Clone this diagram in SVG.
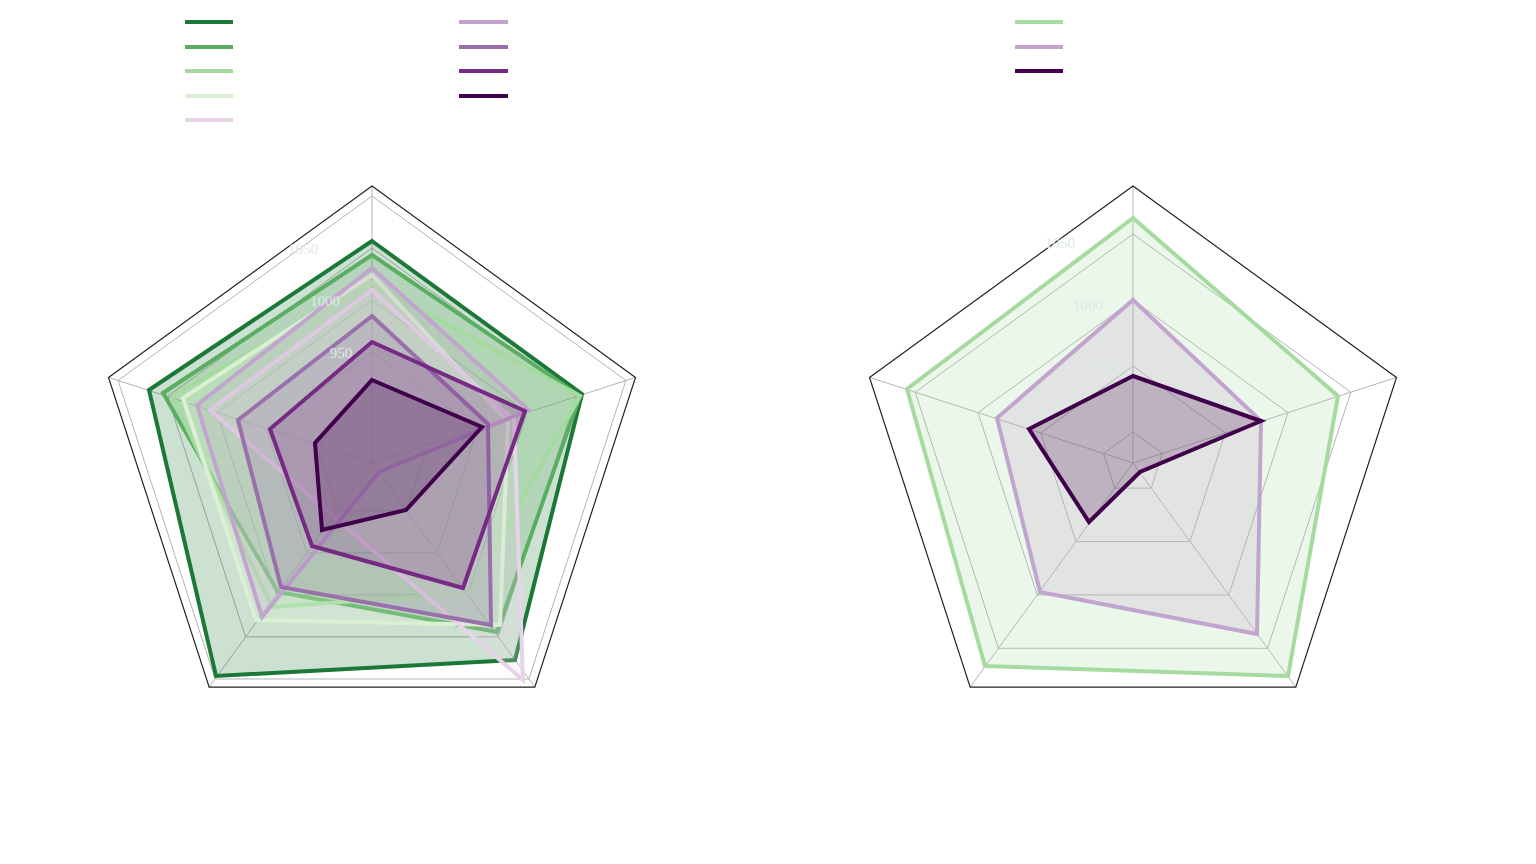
<svg xmlns="http://www.w3.org/2000/svg" width="1536" height="864" viewBox="0 0 1536 864">
<style>
.grid{fill:none;stroke:#b3b3b3;stroke-width:1}
.outer{fill:none;stroke:#222;stroke-width:1.2}
.s{stroke-width:4;stroke-linejoin:miter;fill-opacity:0.22}
.tick{font-family:"Liberation Serif",serif;font-size:15px;fill:#dde8e8}
.leg{stroke-width:4}
</style>
<rect width="1536" height="864" fill="#fff"/>
<g id="legend">
<line class="leg" x1="185" y1="22" x2="233" y2="22" stroke="#1b7837"/>
<line class="leg" x1="185" y1="47" x2="233" y2="47" stroke="#5aae61"/>
<line class="leg" x1="185" y1="71" x2="233" y2="71" stroke="#a6dba0"/>
<line class="leg" x1="185" y1="96" x2="233" y2="96" stroke="#d9f0d3"/>
<line class="leg" x1="185" y1="120" x2="233" y2="120" stroke="#e7d4e8"/>
<line class="leg" x1="459" y1="22" x2="508" y2="22" stroke="#c2a5cf"/>
<line class="leg" x1="459" y1="47" x2="508" y2="47" stroke="#9970ab"/>
<line class="leg" x1="459" y1="71" x2="508" y2="71" stroke="#762a83"/>
<line class="leg" x1="459" y1="96" x2="508" y2="96" stroke="#40004b"/>
<line class="leg" x1="1015" y1="22" x2="1063" y2="22" stroke="#a6dba0"/>
<line class="leg" x1="1015" y1="47" x2="1063" y2="47" stroke="#c2a5cf"/>
<line class="leg" x1="1015" y1="71" x2="1063" y2="71" stroke="#40004b"/>
</g>
<g id="left-grid">
<polygon class="grid" points="372,196 625.9,380.5 528.9,679 215.1,679 118.1,380.5"/>
<polygon class="grid" points="372,248 576.5,396.6 498.4,636.9 245.6,636.9 167.5,396.6"/>
<polygon class="grid" points="372,300 527,412.6 467.8,594.9 276.2,594.9 217,412.6"/>
<polygon class="grid" points="372,352 477.6,428.7 437.2,552.8 306.8,552.8 266.4,428.7"/>
<polygon class="grid" points="372,404 428.1,444.8 406.7,510.7 337.3,510.7 315.9,444.8"/>
<path class="grid" d="M372,463L372,186M372,463L635.5,377.4M372,463L534.8,687.1M372,463L209.2,687.1M372,463L108.5,377.4"/>
<polygon class="outer" points="372,186 635.5,377.4 534.8,687.1 209.2,687.1 108.5,377.4"/>
</g>
<g id="left-series">
<polygon class="s" stroke="#1b7837" fill="#1b7837" points="372,241 582,394 515,660 216,676 149,390"/>
<polygon class="s" stroke="#5aae61" fill="#5aae61" points="372,255 580,396 497,632 278,592 163,393"/>
<polygon class="s" stroke="#a6dba0" fill="#a6dba0" points="372,283 580,396 470,593 272,607 172,396"/>
<polygon class="s" stroke="#d9f0d3" fill="#d9f0d3" points="372,275 508,422 500,625 256,620 183,398"/>
<polygon class="s" stroke="#e7d4e8" fill="#e7d4e8" points="372,290 514,420 523,680 333,516 210,410"/>
<polygon class="s" stroke="#c2a5cf" fill="#c2a5cf" points="372,268 529,410 379,472 262,617 197,405"/>
<polygon class="s" stroke="#9970ab" fill="#9970ab" points="372,316 488,424 491,625 281,587 238,420"/>
<polygon class="s" stroke="#762a83" fill="#762a83" points="372,342 525,411 463,588 312,546 270,429"/>
<polygon class="s" stroke="#40004b" fill="#40004b" points="372,380 482,427 406,510 322,530 315,443"/>
</g>
<g id="left-ticks">
<text class="tick" x="303" y="254" text-anchor="middle">1050</text>
<text class="tick" x="325" y="306" text-anchor="middle">1000</text>
<text class="tick" x="341" y="358" text-anchor="middle">950</text>
</g>
<g id="right-grid">
<polygon class="grid" points="1133,234 1350.8,392.2 1267.6,648.3 998.4,648.3 915.2,392.2"/>
<polygon class="grid" points="1133,300 1288,412.6 1228.8,594.9 1037.2,594.9 978,412.6"/>
<polygon class="grid" points="1133,366 1225.3,433 1190,541.5 1076,541.5 1040.7,433"/>
<polygon class="grid" points="1133,432 1162.5,453.4 1151.2,488.1 1114.8,488.1 1103.5,453.4"/>
<path class="grid" d="M1133,463L1133,186M1133,463L1396.5,377.4M1133,463L1295.8,687.1M1133,463L970.2,687.1M1133,463L869.5,377.4"/>
<polygon class="outer" points="1133,186 1396.5,377.4 1295.8,687.1 970.2,687.1 869.5,377.4"/>
</g>
<g id="right-series">
<polygon class="s" stroke="#a6dba0" fill="#a6dba0" points="1133,218 1338,396 1288,676 985,666 907,389"/>
<polygon class="s" stroke="#c2a5cf" fill="#c2a5cf" points="1133,300 1261,421 1257,634 1040,592 997,418"/>
<polygon class="s" stroke="#40004b" fill="#40004b" points="1133,376 1261,421 1140,472 1089,522 1029,429"/>
</g>
<g id="right-ticks">
<text class="tick" x="1060" y="248" text-anchor="middle">1050</text>
<text class="tick" x="1088" y="310" text-anchor="middle">1000</text>
<text class="tick" x="1110" y="372" text-anchor="middle">950</text>
</g>
</svg>
